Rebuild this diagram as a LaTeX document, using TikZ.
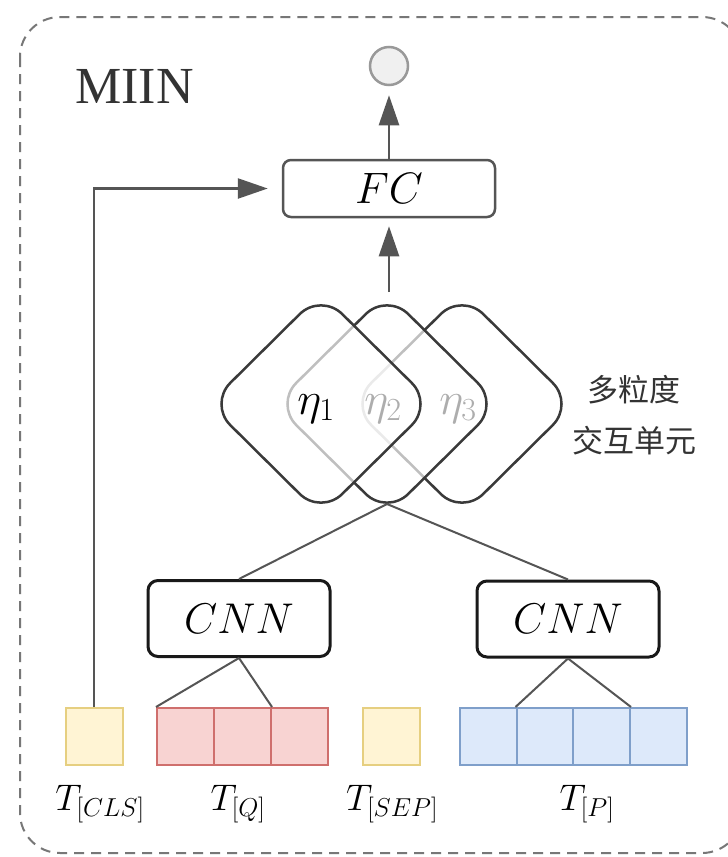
\RequirePackage{fix-cm}
\documentclass[tikz,border=0pt]{standalone}
\usepackage{fontspec}
\newfontfamily\cjkfont{Noto Sans CJK SC}
\newfontfamily\miinfont{Liberation Serif}
\usetikzlibrary{arrows.meta}
\definecolor{linegray}{HTML}{555555}
\definecolor{diagray}{HTML}{3A3A3A}
\definecolor{dashgray}{HTML}{777777}
\definecolor{ylwfill}{HTML}{FFF4D4}
\definecolor{ylwdraw}{HTML}{E6CF80}
\definecolor{redfill}{HTML}{F8D3D2}
\definecolor{reddraw}{HTML}{CF6F6D}
\definecolor{bluefill}{HTML}{DDE9FA}
\definecolor{bluedraw}{HTML}{7F9FCA}
\definecolor{txtgray}{HTML}{333333}
\begin{document}
\begin{tikzpicture}[x=1pt,y=-1pt,
  conn/.style={draw=linegray, line width=2pt},
  arr/.style={draw=linegray, line width=2.5pt, -{Triangle[length=30pt,width=20pt]}},
  fcbox/.style={draw=linegray, line width=2.5pt, rounded corners=8pt, minimum width=212pt, minimum height=57pt, inner sep=0pt, font=\fontsize{44}{48}\selectfont},
  cnnbox/.style={draw=black!90, line width=3pt, rounded corners=10pt, minimum width=182pt, minimum height=76pt, inner sep=0pt, font=\fontsize{43}{46}\selectfont},
  tok/.style={line width=2pt, minimum width=57pt, minimum height=57pt, inner sep=0pt},
  ytok/.style={tok, draw=ylwdraw, fill=ylwfill},
  rtok/.style={tok, draw=reddraw, fill=redfill},
  btok/.style={tok, draw=bluedraw, fill=bluefill},
  tlabel/.style={anchor=base, inner sep=0pt, font=\fontsize{37}{40}\selectfont},
  etalabel/.style={anchor=base, inner sep=0pt, font=\fontsize{46}{50}\selectfont},
  dia/.style={draw=diagray, line width=2.5pt, rounded corners=30pt},
  outerbox/.style={draw=dashgray, line width=2pt, dash pattern=on 10pt off 7pt, rounded corners=40pt}
]
\useasboundingbox (0,0) rectangle (728,857);
\clip (0,0) rectangle (728,857);
\fill[white] (0,0) rectangle (728,857);

% outer dashed frame
\draw[outerbox] (20,17) rectangle (742,853);

% title
\node[anchor=base west, inner sep=0pt, text=txtgray, font=\miinfont\fontsize{52}{56}\selectfont] (miin) at (75,103) {MIIN};

% top part
\node[circle, draw=gray!80, fill=black!6, line width=2.5pt, minimum size=38pt, inner sep=0pt] (out) at (389,66) {};
\node[fcbox] (fc) at (389,188.5) {$FC$};

% tokens
\node[ytok] (cls) at (94,736.5) {};
\node[rtok] (q1) at (185.5,736.5) {};
\node[rtok] (q2) at (242.5,736.5) {};
\node[rtok] (q3) at (299.5,736.5) {};
\node[ytok] (sep) at (391,736.5) {};
\node[btok] (p1) at (488.5,736.5) {};
\node[btok] (p2) at (545,736.5) {};
\node[btok] (p3) at (601.5,736.5) {};
\node[btok] (p4) at (658,736.5) {};

% token labels
\node[tlabel] (lcls) at (100,810) {$T_{[CLS]}$};
\node[tlabel] (lq) at (238,810) {$T_{[Q]}$};
\node[tlabel] (lsep) at (392,810) {$T_{[SEP]}$};
\node[tlabel] (lp) at (587,810) {$T_{[P]}$};

% CNN boxes
\node[cnnbox] (cnnL) at (239,618.5) {$CNN$};
\node[cnnbox] (cnnR) at (568,619) {$CNN$};

% diamonds (multi-granularity interaction units)
\draw[dia] ({462-112},404) -- (462,293) -- ({462+112},404) -- (462,515) -- cycle;
\node[etalabel] (eta3) at (458,414) {$\eta_3$};
\draw[dia, fill=white, fill opacity=0.68] ({387-112},404) -- (387,293) -- ({387+112},404) -- (387,515) -- cycle;
\node[etalabel] (eta2) at (383,414) {$\eta_2$};
\draw[dia, fill=white, fill opacity=0.68] ({321-112},404) -- (321,293) -- ({321+112},404) -- (321,515) -- cycle;
\node[etalabel] (eta1) at (316,414) {$\eta_1$};

\coordinate (dtop) at (389,292);
\coordinate (dbot) at (387,504);

\node[align=center, inner sep=0pt, text=txtgray, font=\cjkfont\fontsize{31}{51}\selectfont] (mgiu) at (634,415) {多粒度\\交互单元};

% connectors
\draw[conn] (dbot) -- (cnnL.north);
\draw[conn] (dbot) -- (cnnR.north);
\draw[conn] (cnnL.south) -- (q1.north west);
\draw[conn] (cnnL.south) -- (q2.north east);
\draw[conn] (cnnR.south) -- (p2.north west);
\draw[conn] (cnnR.south) -- (p3.north east);

\draw[arr, shorten >=8pt] (dtop) -- (fc.south);
\draw[arr, shorten >=9pt] (fc.north) -- (out.south);
\draw[arr, shorten >=14pt] (cls.north) |- (fc.west);
\end{tikzpicture}
\end{document}
